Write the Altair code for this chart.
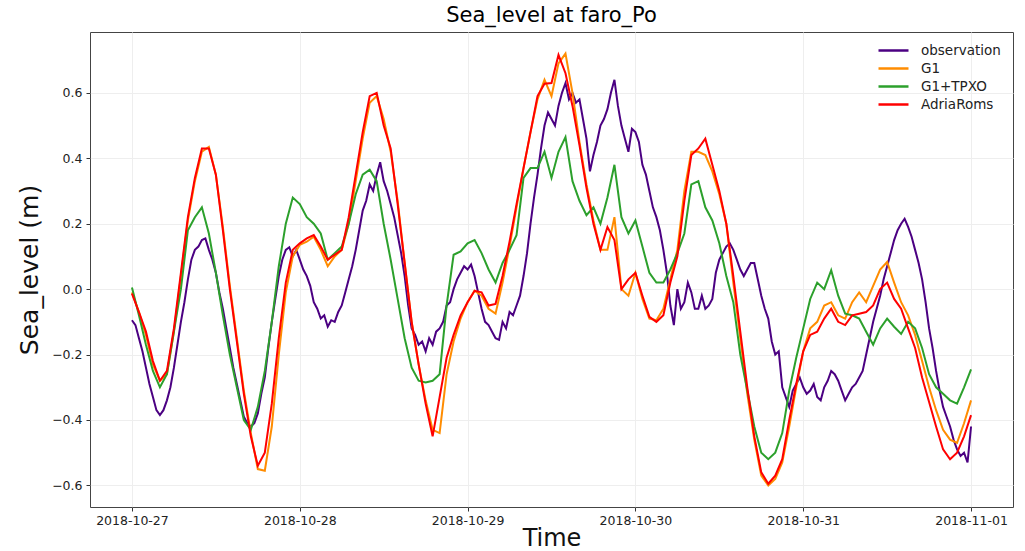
import altair as alt
import pandas as pd

# Sea level at the faro_Po station, 27 Oct - 1 Nov 2018 (UTC)
START = "2018-10-27T00:00:00Z"

# Model runs, hourly values (m)
g1 = [
    -0.01, -0.07, -0.14, -0.23, -0.28, -0.26, -0.13, 0.04, 0.21, 0.33,
    0.42, 0.435, 0.35, 0.19, 0.01, -0.15, -0.31, -0.44, -0.55, -0.555,
    -0.42, -0.20, -0.01, 0.10, 0.135, 0.145, 0.16, 0.12, 0.07, 0.10,
    0.12, 0.20, 0.33, 0.46, 0.57, 0.59, 0.52, 0.42, 0.27, 0.08,
    -0.10, -0.23, -0.34, -0.43, -0.44, -0.26, -0.16, -0.09, -0.04, -0.005,
    -0.02, -0.06, -0.075, 0.02, 0.13, 0.25, 0.37, 0.48, 0.58, 0.64,
    0.59, 0.69, 0.72, 0.60, 0.45, 0.32, 0.21, 0.12, 0.12, 0.22,
    0.00, -0.02, 0.05, -0.03, -0.09, -0.095, -0.06, 0.03, 0.12, 0.30,
    0.42, 0.42, 0.41, 0.36, 0.29, 0.20, 0.02, -0.15, -0.32, -0.46,
    -0.57, -0.60, -0.58, -0.53, -0.42, -0.30, -0.19, -0.12, -0.10, -0.05,
    -0.04, -0.08, -0.09, -0.04, -0.01, -0.04, 0.01, 0.06, 0.083, 0.02,
    -0.04, -0.08, -0.14, -0.22, -0.30, -0.37, -0.43, -0.46, -0.47, -0.41,
    -0.34,
]

g1_tpxo = [
    0.005, -0.08, -0.17, -0.25, -0.30, -0.26, -0.13, 0.00, 0.18, 0.22,
    0.25, 0.17, 0.05, -0.08, -0.20, -0.30, -0.40, -0.43, -0.36, -0.25,
    -0.10, 0.07, 0.20, 0.28, 0.26, 0.22, 0.20, 0.17, 0.09, 0.11,
    0.13, 0.20, 0.29, 0.35, 0.365, 0.33, 0.20, 0.09, -0.03, -0.15,
    -0.24, -0.28, -0.285, -0.28, -0.26, -0.05, 0.105, 0.115, 0.14, 0.15,
    0.11, 0.06, 0.02, 0.08, 0.12, 0.165, 0.34, 0.37, 0.37, 0.42,
    0.34, 0.42, 0.465, 0.33, 0.27, 0.226, 0.25, 0.20, 0.28, 0.38,
    0.22, 0.17, 0.21, 0.13, 0.05, 0.02, 0.02, 0.06, 0.11, 0.17,
    0.32, 0.33, 0.25, 0.21, 0.14, 0.04, -0.04, -0.20, -0.31, -0.42,
    -0.50, -0.52, -0.50, -0.44, -0.31, -0.21, -0.12, -0.03, 0.02, 0.00,
    0.058, -0.02, -0.075, -0.08, -0.09, -0.13, -0.17, -0.12, -0.09, -0.115,
    -0.137, -0.10, -0.12, -0.18, -0.26, -0.30, -0.32, -0.34, -0.35, -0.30,
    -0.245,
]

adriaroms = [
    -0.014, -0.07, -0.13, -0.22, -0.28, -0.25, -0.12, 0.05, 0.22, 0.34,
    0.43, 0.43, 0.35, 0.18, 0.00, -0.16, -0.32, -0.45, -0.54, -0.50,
    -0.35, -0.15, 0.02, 0.12, 0.14, 0.155, 0.165, 0.13, 0.09, 0.105,
    0.12, 0.22, 0.35, 0.48, 0.59, 0.60, 0.50, 0.43, 0.26, 0.08,
    -0.10, -0.23, -0.35, -0.45, -0.33, -0.21, -0.14, -0.08, -0.04, -0.005,
    -0.01, -0.05, -0.045, 0.04, 0.145, 0.26, 0.37, 0.48, 0.59, 0.628,
    0.63, 0.716, 0.66, 0.56, 0.44, 0.31, 0.20, 0.12, 0.19, 0.15,
    0.00, 0.03, 0.05, -0.02, -0.085, -0.10, -0.08, 0.02, 0.10, 0.27,
    0.41, 0.43, 0.46, 0.38, 0.30, 0.20, 0.04, -0.13, -0.30, -0.45,
    -0.56, -0.595, -0.57, -0.52, -0.40, -0.29, -0.19, -0.14, -0.13, -0.09,
    -0.06, -0.10, -0.11, -0.08, -0.075, -0.07, -0.05, 0.00, 0.02, -0.03,
    -0.06, -0.12, -0.18, -0.27, -0.345, -0.42, -0.49, -0.52, -0.50, -0.45,
    -0.385,
]

# Tide-gauge observation, half-hourly values (m)
observation = [
    -0.095, -0.11, -0.15, -0.19, -0.24, -0.29, -0.33, -0.37, -0.385, -0.37,
    -0.34, -0.30, -0.24, -0.17, -0.10, -0.04, 0.03, 0.09, 0.12, 0.13,
    0.15, 0.155, 0.12, 0.09, 0.05, -0.01, -0.06, -0.12, -0.18, -0.24,
    -0.29, -0.34, -0.39, -0.41, -0.42, -0.41, -0.38, -0.32, -0.27, -0.18,
    -0.10, -0.03, 0.04, 0.09, 0.12, 0.128, 0.10, 0.12, 0.09, 0.06,
    0.04, 0.01, -0.04, -0.06, -0.09, -0.08, -0.115, -0.095, -0.10, -0.07,
    -0.05, -0.01, 0.03, 0.07, 0.12, 0.18, 0.24, 0.27, 0.32, 0.30,
    0.35, 0.388, 0.33, 0.30, 0.26, 0.22, 0.165, 0.11, 0.04, -0.05,
    -0.12, -0.14, -0.17, -0.16, -0.19, -0.15, -0.17, -0.13, -0.12, -0.10,
    -0.05, -0.04, 0.00, 0.03, 0.05, 0.07, 0.06, 0.075, 0.04, -0.01,
    -0.06, -0.10, -0.11, -0.13, -0.15, -0.155, -0.10, -0.12, -0.07, -0.08,
    -0.05, -0.02, 0.04, 0.11, 0.20, 0.28, 0.35, 0.43, 0.50, 0.54,
    0.52, 0.50, 0.56, 0.60, 0.63, 0.58, 0.60, 0.57, 0.58, 0.52,
    0.46, 0.36, 0.41, 0.45, 0.50, 0.52, 0.55, 0.60, 0.64, 0.56,
    0.50, 0.46, 0.42, 0.49, 0.48, 0.45, 0.38, 0.35, 0.30, 0.25,
    0.22, 0.18, 0.12, 0.05, -0.05, -0.11, 0.00, -0.06, -0.04, 0.02,
    -0.01, -0.06, -0.06, -0.02, -0.06, -0.05, -0.03, 0.05, 0.09, 0.11,
    0.13, 0.14, 0.12, 0.09, 0.06, 0.04, 0.06, 0.08, 0.08, 0.03,
    -0.02, -0.06, -0.09, -0.16, -0.20, -0.19, -0.30, -0.33, -0.36, -0.31,
    -0.29, -0.27, -0.30, -0.32, -0.31, -0.29, -0.33, -0.34, -0.30, -0.28,
    -0.25, -0.26, -0.28, -0.31, -0.34, -0.32, -0.30, -0.29, -0.27, -0.25,
    -0.20, -0.15, -0.10, -0.06, -0.02, 0.03, 0.07, 0.11, 0.15, 0.18,
    0.20, 0.215, 0.19, 0.16, 0.12, 0.08, 0.03, -0.04, -0.12, -0.18,
    -0.25, -0.31, -0.36, -0.39, -0.42, -0.46, -0.49, -0.51, -0.50, -0.53,
    -0.42,
]

series_names = ["observation", "G1", "G1+TPXO", "AdriaRoms"]
series_colors = ["#4b0082", "#ff8c00", "#2ca02c", "#ff0000"]
day_ticks = [(10, 27), (10, 28), (10, 29), (10, 30), (10, 31), (11, 1)]

def frame(values, name, step):
    t = pd.date_range(START, periods=len(values), freq=step)
    return pd.DataFrame({
        "time": t.strftime("%Y-%m-%dT%H:%M:%SZ"),
        "level": values,
        "series": name,
    })

data = pd.concat([
    frame(observation, "observation", "30min"),
    frame(g1, "G1", "1h"),
    frame(g1_tpxo, "G1+TPXO", "1h"),
    frame(adriaroms, "AdriaRoms", "1h"),
], ignore_index=True)

x_enc = alt.X(
    "time:T",
    title="Time",
    scale=alt.Scale(
        type="utc",
        domain=[
            alt.DateTime(year=2018, month=10, date=26, hours=18, utc=True),
            alt.DateTime(year=2018, month=11, date=1, hours=6, utc=True),
        ],
    ),
    axis=alt.Axis(
        values=[alt.DateTime(year=2018, month=m, date=d, utc=True) for m, d in day_ticks],
        format="%Y-%m-%d",
        labelFontSize=12.5,
        titleFontSize=24,
        titleFontWeight="normal",
        titlePadding=0,
        tickSize=4,
        labelPadding=3,
    ),
)
y_enc = alt.Y(
    "level:Q",
    title="Sea_level (m)",
    scale=alt.Scale(domain=[-0.666, 0.786], nice=False, zero=False),
    axis=alt.Axis(
        values=[-0.6, -0.4, -0.2, 0.0, 0.2, 0.4, 0.6],
        format=".1f",
        labelFontSize=12.5,
        titleFontSize=25,
        titleFontWeight="normal",
        titlePadding=9,
        tickSize=4,
        labelPadding=4,
    ),
)
color_enc = alt.Color(
    "series:N",
    scale=alt.Scale(domain=series_names, range=series_colors),
    legend=alt.Legend(
        title=None,
        orient="none",
        legendX=792,
        legendY=7,
        symbolType="M-1.5,0H1.5",
        symbolSize=400,
        symbolStrokeWidth=2.5,
        labelFontSize=13.5,
        labelOffset=16,
        rowPadding=0,
        padding=0,
    ),
)

# one layer per series so the later runs are drawn on top
layers = [
    alt.Chart(data)
    .transform_filter(alt.datum.series == name)
    .mark_line(strokeWidth=2, interpolate="linear")
    .encode(x=x_enc, y=y_enc, color=color_enc)
    for name in series_names
]

chart = (
    alt.layer(*layers)
    .properties(
        width=923,
        height=475,
        title=alt.TitleParams("Sea_level at faro_Po", fontSize=21, fontWeight="normal", offset=6),
        padding={"left": 90, "top": 32, "right": 12, "bottom": 44},
        autosize="none",
    )
    .configure(font="DejaVu Sans")
    .configure_view(stroke="#444444", strokeWidth=1)
    .configure_axis(
        gridColor="#eeeeee",
        domain=False,
        tickColor="#333333",
        labelColor="#222222",
        titleColor="#111111",
    )
    .configure_legend(labelColor="#222222")
)

chart.save("out.html", embed_options={"renderer": "svg", "actions": False})
